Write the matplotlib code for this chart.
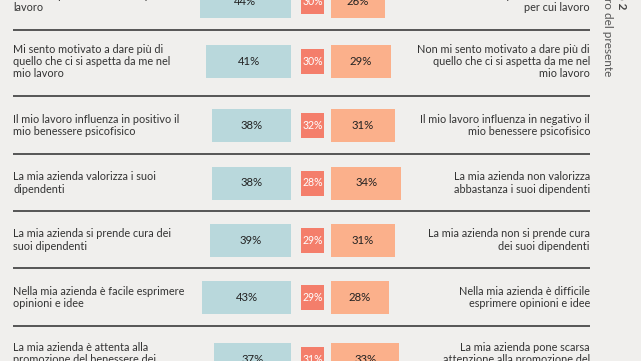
import matplotlib.pyplot as plt

plt.rcParams['font.family'] = ['Lato', 'DejaVu Sans']

# data
left_labels = [
    "Mi sento parte dell'azienda per cui\nlavoro",
    "Mi sento motivato a dare più di\nquello che ci si aspetta da me nel\nmio lavoro",
    "Il mio lavoro influenza in positivo il\nmio benessere psicofisico",
    "La mia azienda valorizza i suoi\ndipendenti",
    "La mia azienda si prende cura dei\nsuoi dipendenti",
    "Nella mia azienda è facile esprimere\nopinioni e idee",
    "La mia azienda è attenta alla\npromozione del benessere dei\ndipendenti",
]
right_labels = [
    "Non mi sento parte dell'azienda\nper cui lavoro",
    "Non mi sento motivato a dare più di\nquello che ci si aspetta da me nel\nmio lavoro",
    "Il mio lavoro influenza in negativo il\nmio benessere psicofisico",
    "La mia azienda non valorizza\nabbastanza i suoi dipendenti",
    "La mia azienda non si prende cura\ndei suoi dipendenti",
    "Nella mia azienda è difficile\nesprimere opinioni e idee",
    "La mia azienda pone scarsa\nattenzione alla promozione del\nbenessere dei dipendenti",
]
positive = [44, 41, 38, 38, 39, 43, 37]
neutral = [30, 30, 32, 28, 29, 29, 31]
negative = [26, 29, 31, 34, 31, 28, 33]

# layout (pixels, top-down)
row_y = [1.5, 61.5, 125.5, 183, 240, 297.5, 359.5]
sep_y = [30, 96, 154, 211, 268, 326]
px = 2.07
teal_right = 291
red_left, red_w, red_h = 301, 23, 25
orange_left = 331
bar_h = 33

bg = '#f0efed'
teal = '#b9d8dc'
red = '#f47e6b'
orange = '#fbb08b'
txt = '#333333'

fig = plt.figure(figsize=(6.41, 3.61), dpi=100, facecolor=bg)
ax = fig.add_axes([0, 0, 1, 1])
ax.set_facecolor(bg)
ax.set_xlim(0, 641)
ax.set_ylim(361, 0)
ax.axis('off')

teal_w = [v * px for v in positive]
ax.barh(row_y, teal_w, left=[teal_right - w for w in teal_w], height=bar_h, color=teal)
ax.barh(row_y, [red_w] * len(neutral), left=red_left, height=red_h, color=red)
ax.barh(row_y, [v * px for v in negative], left=orange_left, height=bar_h, color=orange)

for i, y in enumerate(row_y):
    ax.text(teal_right - positive[i] * px / 2, y, f"{positive[i]}%", ha='center', va='center',
            fontsize=8.2, color='#222222')
    ax.text(red_left + red_w / 2, y, f"{neutral[i]}%", ha='center', va='center',
            fontsize=7.6, color='white')
    ax.text(orange_left + negative[i] * px / 2, y, f"{negative[i]}%", ha='center', va='center',
            fontsize=8.2, color='#222222')
    ax.text(13, y, left_labels[i], ha='left', va='center', fontsize=7.8, color=txt,
            linespacing=1.12)
    ax.text(590, y, right_labels[i], ha='right', va='center', fontsize=7.8, color=txt,
            linespacing=1.12, multialignment='right')

for y in sep_y:
    ax.plot([13, 590], [y, y], color='#555555', lw=1.4, solid_capstyle='butt')

# rotated side title
ax.text(621, 9, "Grafico 2", rotation=270, ha='center', va='bottom', fontsize=8.5,
        fontweight='bold', color='#444444')
ax.text(607, 76, "Il lavoro del presente", rotation=270, ha='center', va='bottom',
        fontsize=8.5, color='#555555')

fig.savefig('out.png', dpi=100, facecolor=bg)
